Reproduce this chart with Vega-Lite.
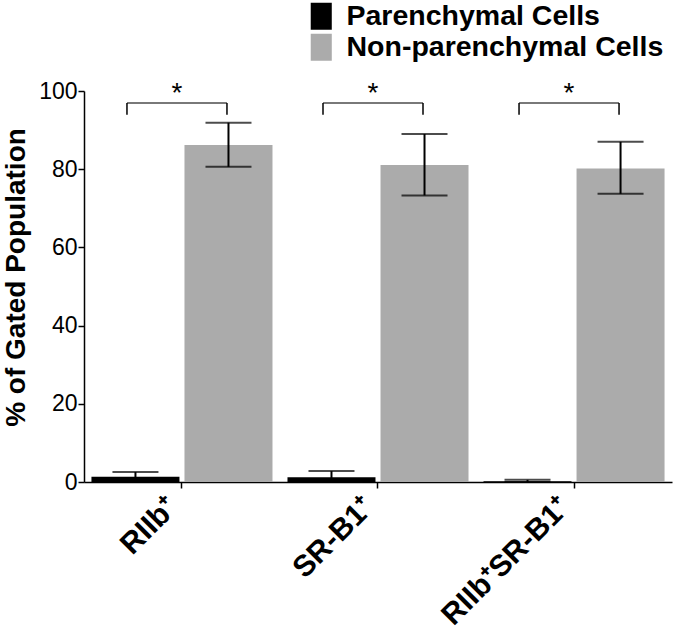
{
  "$schema": "https://vega.github.io/schema/vega-lite/v6.json",
  "width": 588,
  "height": 391,
  "autosize": {"type": "none"},
  "padding": {"left": 84, "top": 91, "right": 3, "bottom": 150},
  "background": "white",
  "config": {
    "font": "Liberation Sans",
    "view": {"stroke": null},
    "axis": {
      "domainColor": "black",
      "domainWidth": 1.5,
      "tickColor": "black",
      "tickWidth": 1.5,
      "tickSize": 6,
      "labelColor": "black",
      "titleColor": "black",
      "grid": false,
      "labelFont": "Liberation Sans",
      "titleFont": "Liberation Sans"
    }
  },
  "datasets": {
    "bars": [
      {"group": "RIIb⁺", "series": "Parenchymal Cells", "mean": 1.35, "lo": 0.15, "hi": 2.55},
      {"group": "RIIb⁺", "series": "Non-parenchymal Cells", "mean": 86.2, "lo": 80.6, "hi": 91.9},
      {"group": "SR-B1⁺", "series": "Parenchymal Cells", "mean": 1.2, "lo": 0, "hi": 2.8},
      {"group": "SR-B1⁺", "series": "Non-parenchymal Cells", "mean": 81.1, "lo": 73.3, "hi": 89.0},
      {"group": "RIIb⁺SR-B1⁺", "series": "Parenchymal Cells", "mean": 0.2, "lo": 0, "hi": 0.55},
      {"group": "RIIb⁺SR-B1⁺", "series": "Non-parenchymal Cells", "mean": 80.2, "lo": 73.7, "hi": 87.0}
    ],
    "sig": [
      {"group": "RIIb⁺", "top": 96.9, "bottom": 93.9, "label": "*"},
      {"group": "SR-B1⁺", "top": 96.9, "bottom": 93.9, "label": "*"},
      {"group": "RIIb⁺SR-B1⁺", "top": 96.9, "bottom": 93.9, "label": "*"}
    ]
  },
  "layer": [
    {
      "data": {"name": "bars"},
      "mark": {"type": "bar"},
      "encoding": {
        "x": {
          "field": "group", "type": "nominal",
          "sort": ["RIIb⁺", "SR-B1⁺", "RIIb⁺SR-B1⁺"],
          "scale": {"paddingInner": 0.0765, "paddingOuter": 0.038},
          "axis": {
            "title": null,
            "labelAngle": -45,
            "labelAlign": "right",
            "labelBaseline": "middle",
            "labelFontSize": 30,
            "labelFontWeight": "bold",
            "labelPadding": 14,
            "labelOffset": -9,
            "labelLimit": 0
          }
        },
        "xOffset": {
          "field": "series", "type": "nominal",
          "sort": ["Parenchymal Cells", "Non-parenchymal Cells"],
          "scale": {"paddingInner": 0.054, "paddingOuter": 0}
        },
        "y": {
          "field": "mean", "type": "quantitative",
          "scale": {"domain": [0, 100], "nice": false},
          "axis": {
            "values": [0, 20, 40, 60, 80, 100],
            "title": "% of Gated Population",
            "titleFontSize": 28,
            "titleFontWeight": "bold",
            "titlePadding": 8,
            "titleY": 186,
            "labelFontSize": 23,
            "labelPadding": 1
          }
        },
        "color": {
          "field": "series", "type": "nominal",
          "scale": {"domain": ["Parenchymal Cells", "Non-parenchymal Cells"], "range": ["#000000", "#ababab"]},
          "legend": {
            "orient": "none",
            "legendX": 223,
            "legendY": -89,
            "title": null,
            "padding": 0,
            "labelFontSize": 28.5,
            "labelFontWeight": "bold",
            "labelColor": "black",
            "labelFont": "Liberation Sans",
            "labelLimit": 0,
            "symbolType": "M-0.78,-1H0.78V1H-0.78Z",
            "symbolSize": 729,
            "symbolStrokeWidth": 0,
            "rowPadding": 2,
            "labelOffset": 11
          }
        }
      }
    },
    {
      "data": {"name": "bars"},
      "mark": {"type": "rule", "strokeWidth": 2, "color": "black"},
      "encoding": {
        "x": {"field": "group", "type": "nominal", "sort": ["RIIb⁺", "SR-B1⁺", "RIIb⁺SR-B1⁺"]},
        "xOffset": {"field": "series", "type": "nominal", "sort": ["Parenchymal Cells", "Non-parenchymal Cells"]},
        "y": {"field": "lo", "type": "quantitative"},
        "y2": {"field": "hi"}
      }
    },
    {
      "data": {"name": "bars"},
      "mark": {"type": "tick", "size": 46, "thickness": 2, "color": "black"},
      "encoding": {
        "x": {"field": "group", "type": "nominal", "sort": ["RIIb⁺", "SR-B1⁺", "RIIb⁺SR-B1⁺"]},
        "xOffset": {"field": "series", "type": "nominal", "sort": ["Parenchymal Cells", "Non-parenchymal Cells"]},
        "y": {"field": "hi", "type": "quantitative"}
      }
    },
    {
      "data": {"name": "bars"},
      "mark": {"type": "tick", "size": 46, "thickness": 2, "color": "black"},
      "encoding": {
        "x": {"field": "group", "type": "nominal", "sort": ["RIIb⁺", "SR-B1⁺", "RIIb⁺SR-B1⁺"]},
        "xOffset": {"field": "series", "type": "nominal", "sort": ["Parenchymal Cells", "Non-parenchymal Cells"]},
        "y": {"field": "lo", "type": "quantitative"}
      }
    },
    {
      "data": {"name": "sig"},
      "mark": {"type": "tick", "size": 100, "thickness": 1.5, "color": "black", "xOffset": -5},
      "encoding": {
        "x": {"field": "group", "type": "nominal", "sort": ["RIIb⁺", "SR-B1⁺", "RIIb⁺SR-B1⁺"]},
        "y": {"field": "top", "type": "quantitative"}
      }
    },
    {
      "data": {"name": "sig"},
      "mark": {"type": "rule", "strokeWidth": 1.5, "color": "black", "xOffset": -55},
      "encoding": {
        "x": {"field": "group", "type": "nominal", "sort": ["RIIb⁺", "SR-B1⁺", "RIIb⁺SR-B1⁺"]},
        "y": {"field": "top", "type": "quantitative"},
        "y2": {"field": "bottom"}
      }
    },
    {
      "data": {"name": "sig"},
      "mark": {"type": "rule", "strokeWidth": 1.5, "color": "black", "xOffset": 45},
      "encoding": {
        "x": {"field": "group", "type": "nominal", "sort": ["RIIb⁺", "SR-B1⁺", "RIIb⁺SR-B1⁺"]},
        "y": {"field": "top", "type": "quantitative"},
        "y2": {"field": "bottom"}
      }
    },
    {
      "data": {"name": "sig"},
      "mark": {"type": "text", "fontSize": 28, "color": "black", "xOffset": -5, "baseline": "alphabetic", "dy": -1},
      "encoding": {
        "x": {"field": "group", "type": "nominal", "sort": ["RIIb⁺", "SR-B1⁺", "RIIb⁺SR-B1⁺"]},
        "y": {"field": "top", "type": "quantitative"},
        "text": {"field": "label"}
      }
    }
  ]
}
